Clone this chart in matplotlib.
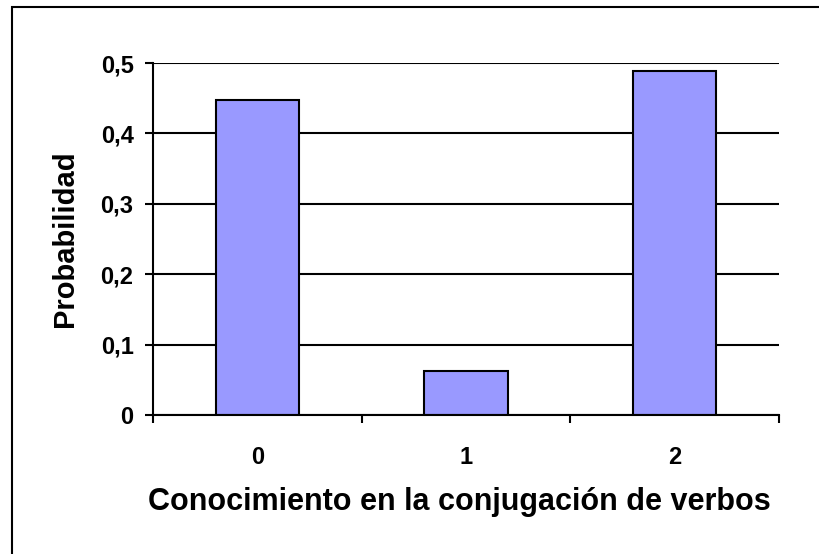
import matplotlib.pyplot as plt
from matplotlib.patches import Rectangle

categorias = ["0", "1", "2"]
probabilidades = [0.447, 0.063, 0.489]
yticks = [0, 0.1, 0.2, 0.3, 0.4, 0.5]
ytick_labels = ["0", "0,1", "0,2", "0,3", "0,4", "0,5"]

plt.rcParams['font.family'] = ['Liberation Sans', 'DejaVu Sans']
plt.rcParams['font.weight'] = 'bold'

fig = plt.figure(figsize=(8.2, 5.54), dpi=100)
ax = fig.add_axes([153/820, 1 - 415/554, 626/820, 352/554])

x = range(len(categorias))
ax.bar(x, probabilidades, width=0.4, color="#9999ff", edgecolor="black",
       linewidth=1.5, zorder=3)

ax.set_xlim(-0.5, 2.5)
ax.set_ylim(0, 0.5)
ax.set_yticks(yticks)
ax.set_yticklabels(ytick_labels, fontsize=17, fontweight='bold')
ax.set_xticks(list(x))
ax.set_xticklabels(categorias, fontsize=17, fontweight='bold')
ax.tick_params(axis='x', length=0, pad=22)
ax.set_xticks([-0.5, 0.5, 1.5, 2.5], minor=True)
ax.tick_params(axis='x', which='minor', length=6, width=1.5, direction='out')
ax.tick_params(axis='y', length=6, width=1.5, direction='out', pad=8)

ax.yaxis.grid(True, color="black", linewidth=1.5, zorder=0)
for s in ['top', 'right']:
    ax.spines[s].set_visible(False)
for s in ['left', 'bottom']:
    ax.spines[s].set_linewidth(1.5)
    ax.spines[s].set_zorder(4)

ax.set_ylabel("Probabilidad", fontsize=21, fontweight='bold', va='center')
ax.yaxis.set_label_coords((65 - 153) / 626, 0.5)
ax.set_xlabel("Conocimiento en la conjugación de verbos", fontsize=22,
              fontweight='bold', va='center')
ax.xaxis.set_label_coords((459 - 153) / 626, (415 - 502) / 352)

# marco exterior (solo visible arriba y a la izquierda)
fig.patches.append(Rectangle((12/820, -0.1), 1.2, 1 - 7/554 + 0.1,
                             transform=fig.transFigure, fill=False,
                             edgecolor="black", linewidth=1.5))

fig.savefig("out.png", dpi=100)
